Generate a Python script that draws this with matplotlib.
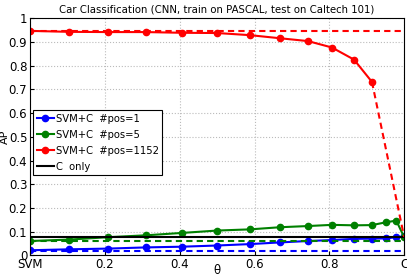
import matplotlib.pyplot as plt
import numpy as np

# theta positions
theta = [0, 0.105, 0.208, 0.31, 0.406, 0.5, 0.588, 0.668, 0.743, 0.807, 0.866, 0.914, 0.952, 0.979, 1.0]

ap_pos1 = [0.022, 0.026, 0.029, 0.034, 0.037, 0.042, 0.048, 0.055, 0.061, 0.065, 0.070, 0.071, 0.072, 0.077, 0.080]
ap_pos5 = [0.061, 0.067, 0.077, 0.085, 0.095, 0.105, 0.110, 0.119, 0.124, 0.129, 0.127, 0.128, 0.140, 0.147, 0.077]
ap_pos1152 = [0.946, 0.942, 0.941, 0.941, 0.938, 0.937, 0.928, 0.915, 0.903, 0.876, 0.825, 0.731]

svm_pos1 = 0.020
svm_pos5 = 0.060
svm_pos1152 = 0.946
c_only = 0.078

plt.rcParams['font.family'] = 'DejaVu Sans'
fig = plt.figure(figsize=(4.07, 2.78), dpi=100)
ax = fig.add_axes([0.074, 0.081, 0.919, 0.854])

dash = (0, (3, 2))
ax.plot(theta, ap_pos1, marker='o', color='blue', markersize=4.5, linewidth=1.5, label='SVM+C  #pos=1')
ax.plot(theta, ap_pos5, marker='o', color='green', markersize=4.5, linewidth=1.5, label='SVM+C  #pos=5')
ax.plot(theta[:len(ap_pos1152)], ap_pos1152, marker='o', color='red', markersize=4.5, linewidth=1.5, label='SVM+C  #pos=1152')
ax.plot([0, 1], [c_only, c_only], color='black', linewidth=1.5, label='C  only')

# SVM-only baselines and the dropped tail of the red curve
ax.plot([0, 1], [svm_pos1, svm_pos1], color='blue', linestyle=dash, linewidth=1.5)
ax.plot([0, 1], [svm_pos5, svm_pos5], color='green', linestyle=dash, linewidth=1.5)
ax.plot([0, 1], [svm_pos1152, svm_pos1152], color='red', linestyle=dash, linewidth=1.5)
ax.plot([theta[len(ap_pos1152) - 1], 1.0], [ap_pos1152[-1], c_only], color='red', linestyle=dash, linewidth=1.5)

ax.set_xlim(0, 1)
ax.set_ylim(0, 1)
ax.set_xticks([0, 0.2, 0.4, 0.6, 0.8, 1.0])
ax.set_xticklabels(['SVM', '0.2', '0.4', '0.6', '0.8', 'C'])
ax.set_yticks(np.arange(0, 1.01, 0.1))
ax.set_yticklabels(['0', '0.1', '0.2', '0.3', '0.4', '0.5', '0.6', '0.7', '0.8', '0.9', '1'])
ax.tick_params(labelsize=8.5, direction='in', length=3, pad=2)
ax.grid(True, linestyle=':', color='#bbbbbb', linewidth=0.8)

ax.set_xlabel('θ', fontsize=8.5, labelpad=-5)
ax.set_ylabel('AP', fontsize=8, labelpad=-0.5)
ax.set_title('Car Classification (CNN, train on PASCAL, test on Caltech 101)', fontsize=7.3, pad=4)

leg = ax.legend(loc='upper left', bbox_to_anchor=(0.0, 0.625), fontsize=7.2, frameon=True, fancybox=False,
                edgecolor='black', framealpha=1, handlelength=1.7, handletextpad=0.2, borderpad=0.35,
                labelspacing=0.6, borderaxespad=0.3)
leg.get_frame().set_linewidth(0.8)

plt.savefig('out.png', dpi=100)
